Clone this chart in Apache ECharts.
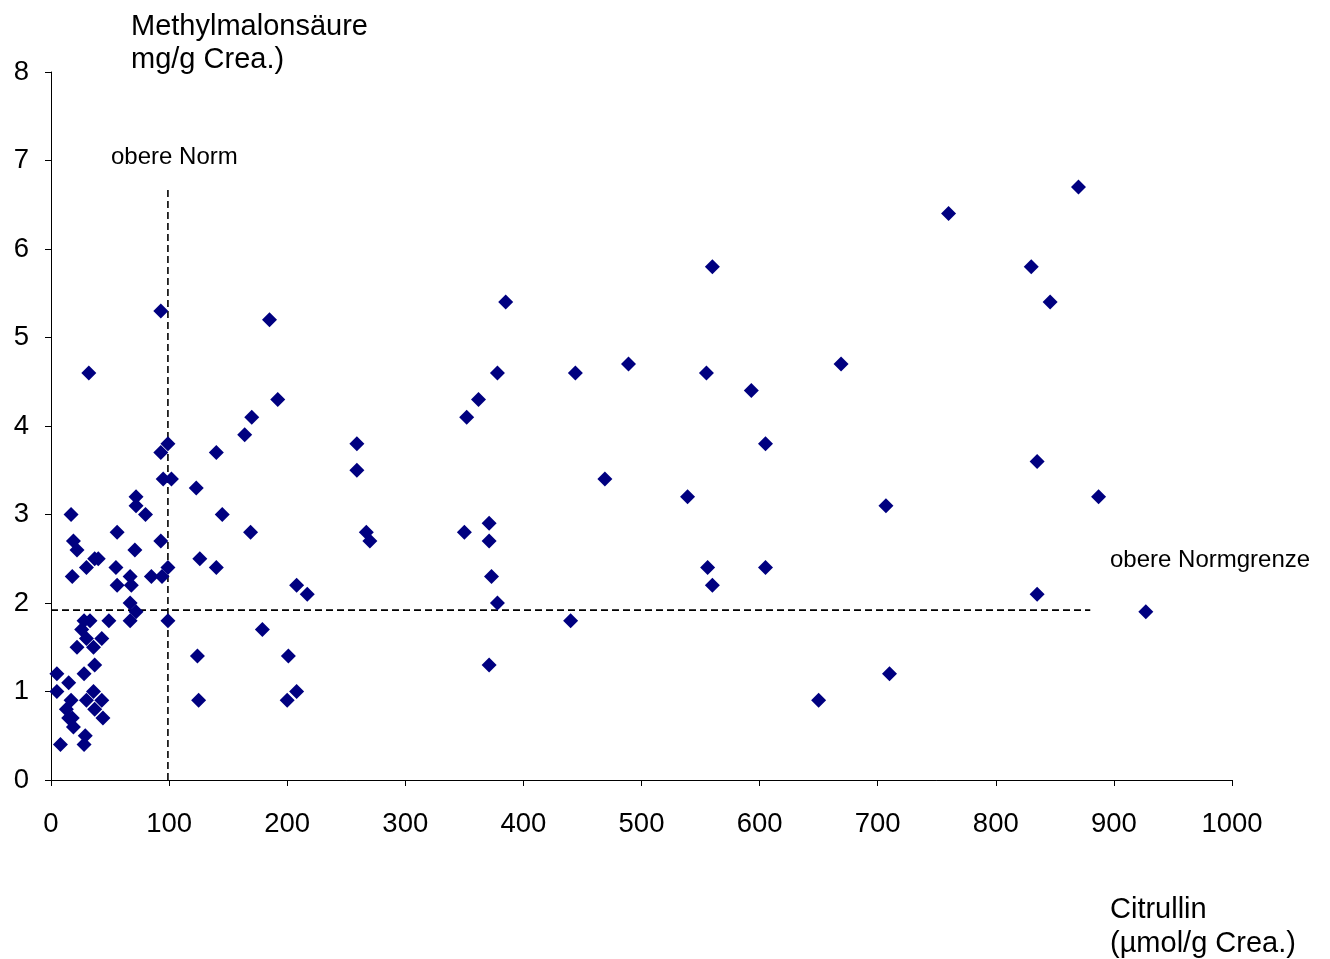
<!DOCTYPE html>
<html>
<head>
<meta charset="utf-8">
<script src="https://cdn.jsdelivr.net/npm/echarts@6/dist/echarts.min.js"></script>
<style>
  html, body { margin: 0; padding: 0; background: #fff; }
  #chart { width: 1330px; height: 959px; }
</style>
</head>
<body>
<div id="chart"></div>
<script>
// Citrullin (µmol/g Crea.) per sample
const citrullin = [
  870, 760, 560, 830, 846, 385, 93, 185, 32, 378, 444, 489, 555, 669, 593,
  362, 192, 352, 170, 164, 259, 605, 99, 93, 140, 95, 102, 259, 469, 835,
  123, 539, 887, 707, 72, 72, 80, 17, 145, 56, 169, 267, 350, 371, 19,
  270, 371, 93, 22, 71, 37, 40, 126, 30, 55, 99, 140, 556, 605, 18,
  67, 85, 94, 373, 208, 560, 56, 68, 217, 835, 67, 378, 72, 927, 67,
  49, 28, 33, 99, 440, 179, 26, 30, 43, 22, 36, 124, 201, 37, 371,
  5, 28, 710, 15, 5, 36, 208, 13, 125, 200, 650, 43, 17, 30, 37,
  15, 44, 19, 29, 8, 28, 18
];
// Methylmalonsäure (mg/g Crea.) per sample
const methylmalon = [
  6.7, 6.4, 5.8, 5.8, 5.4, 5.4, 5.3, 5.2, 4.6, 4.6, 4.6, 4.7, 4.6, 4.7, 4.4,
  4.3, 4.3, 4.1, 4.1, 3.9, 3.8, 3.8, 3.8, 3.7, 3.7, 3.4, 3.4, 3.5, 3.4, 3.6,
  3.3, 3.2, 3.2, 3.1, 3.2, 3.1, 3.0, 3.0, 3.0, 2.8, 2.8, 2.8, 2.8, 2.9, 2.7,
  2.7, 2.7, 2.7, 2.6, 2.6, 2.5, 2.5, 2.5, 2.4, 2.4, 2.4, 2.4, 2.4, 2.4, 2.3,
  2.3, 2.3, 2.3, 2.3, 2.2, 2.2, 2.2, 2.2, 2.1, 2.1, 2.0, 2.0, 1.9, 1.9, 1.8,
  1.8, 1.8, 1.8, 1.8, 1.8, 1.7, 1.7, 1.6, 1.6, 1.5, 1.5, 1.4, 1.4, 1.3, 1.3,
  1.2, 1.2, 1.2, 1.1, 1.0, 1.0, 1.0, 0.8, 0.9, 0.9, 0.9, 0.9, 0.9, 0.9, 0.8,
  0.7, 0.7, 0.6, 0.5, 0.4, 0.4, 0.7
];

// Reference limits
const normCitrullin = 99;      // obere Norm (vertical)
const normMethylmalon = 1.92;  // obere Normgrenze (horizontal)
const verticalTop = 6.7;
const horizontalEnd = 880;

const xTicks = { min: 0, max: 1000, interval: 100 };
const yTicks = { min: 0, max: 8, interval: 1 };

const points = citrullin.map((c, i) => [c, methylmalon[i]]);

const chart = echarts.init(document.getElementById('chart'), null, { renderer: 'canvas' });

const font = '"Liberation Sans", Arial, sans-serif';
const axisLineStyle = { color: '#000', width: 1 };
const dashStyle = { color: '#000', width: 1.6, type: [7, 4] };

function label(text, x, y, size) {
  return {
    type: 'text', x: x, y: y,
    style: { text: text, fill: '#000', font: size + 'px ' + font, verticalAlign: 'middle', align: 'left' }
  };
}

chart.setOption({
  animation: false,
  backgroundColor: '#fff',
  grid: { left: 51, right: 98, top: 72, bottom: 179, containLabel: false },
  xAxis: {
    type: 'value',
    min: xTicks.min, max: xTicks.max, interval: xTicks.interval,
    axisLine: { show: true, onZero: false, lineStyle: axisLineStyle },
    axisTick: { show: true, inside: false, length: 6, lineStyle: axisLineStyle },
    axisLabel: { color: '#000', fontFamily: font, fontSize: 27.5, margin: 30, formatter: v => String(v) },
    splitLine: { show: false }
  },
  yAxis: {
    type: 'value',
    min: yTicks.min, max: yTicks.max, interval: yTicks.interval,
    axisLine: { show: true, onZero: false, lineStyle: axisLineStyle },
    axisTick: { show: true, inside: false, length: 6, lineStyle: axisLineStyle },
    axisLabel: { color: '#000', fontFamily: font, fontSize: 27.5, margin: 22, formatter: v => String(v) },
    splitLine: { show: false }
  },
  series: [
    {
      type: 'line',
      data: [[normCitrullin, 0], [normCitrullin, verticalTop]],
      symbol: 'none',
      lineStyle: dashStyle,
      z: 1
    },
    {
      type: 'line',
      data: [[0, normMethylmalon], [horizontalEnd, normMethylmalon]],
      symbol: 'none',
      lineStyle: dashStyle,
      z: 1
    },
    {
      type: 'scatter',
      data: points,
      symbol: 'diamond',
      symbolSize: 15,
      itemStyle: { color: '#000080', opacity: 1 },
      z: 3
    }
  ],
  graphic: [
    label('Methylmalonsäure', 131, 27, 29),
    label('mg/g Crea.)', 131, 60, 29),
    label('obere Norm', 111, 157, 24),
    label('obere Normgrenze', 1110, 560, 24),
    label('Citrullin', 1110, 910, 29),
    label('(µmol/g Crea.)', 1110, 944, 29)
  ]
});
</script>
</body>
</html>
